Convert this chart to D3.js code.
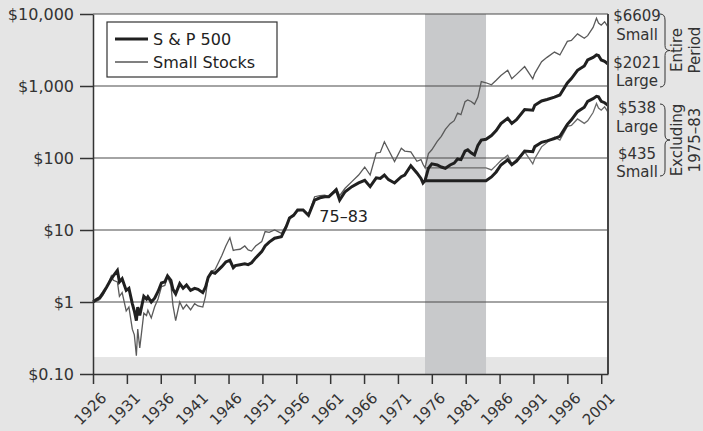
<!DOCTYPE html>
<html>
<head>
<meta charset="utf-8">
<script src="https://cdn.jsdelivr.net/npm/d3@7"></script>
<style>
  body { margin: 0; background: #e5e5e5; }
  svg { display: block; font-family: "DejaVu Sans", sans-serif; }
</style>
</head>
<body>
<div id="chart"></div>
<script>
// Growth of $1 (log scale)
var years = [1926.0, 1926.5, 1927.0, 1927.5, 1928.0, 1928.7, 1929.0, 1929.6, 1929.9, 1930.3,
  1930.9, 1931.3, 1931.8, 1932.1, 1932.4, 1932.6, 1932.9, 1933.5, 1933.9, 1934.1,
  1934.6, 1935.1, 1935.6, 1936.1, 1936.6, 1937.0, 1937.5, 1937.8, 1938.2, 1938.8,
  1939.3, 1939.8, 1940.4, 1941.0, 1941.5, 1942.2, 1942.6, 1943.0, 1943.5, 1944.0,
  1945.0, 1945.6, 1946.2, 1946.7, 1947.0, 1947.7, 1948.4, 1948.9, 1949.4, 1950.0,
  1950.9, 1951.4, 1952.0, 1952.8, 1953.8, 1954.5, 1955.0, 1955.6, 1956.2, 1957.0,
  1957.8, 1958.7, 1959.5, 1960.2, 1960.8, 1961.9, 1962.4, 1963.2, 1964.2, 1965.2,
  1966.1, 1966.9, 1967.8, 1968.4, 1969.0, 1969.6, 1970.5, 1971.5, 1972.0, 1972.9,
  1973.8, 1974.4, 1974.7, 1975.0, 1975.5, 1976.0, 1976.8, 1977.4, 1978.0, 1978.7,
  1979.3, 1979.8, 1980.3, 1980.9, 1981.3, 1981.8, 1982.3, 1982.8, 1983.3, 1984.0,
  1984.8, 1985.5, 1986.2, 1987.2, 1987.8, 1988.5, 1989.7, 1990.9, 1991.2, 1992.2,
  1993.0, 1994.1, 1994.9, 1996.0, 1996.6, 1997.5, 1998.5, 1999.0, 1999.8, 2000.3,
  2000.6, 2001.0, 2001.5, 2002.0];

var sp500 = [1.00, 1.08, 1.15, 1.35, 1.6, 2.1, 2.3, 2.75, 1.9, 2.1,
  1.45, 1.55, 0.95, 0.75, 0.55, 0.85, 0.65, 1.2, 1.1, 1.18,
  1.0, 1.13, 1.4, 1.84, 1.9, 2.3, 2.0, 1.5, 1.3, 1.8,
  1.55, 1.72, 1.45, 1.55, 1.5, 1.35, 1.6, 2.2, 2.6, 2.5,
  3.1, 3.6, 3.8, 3.0, 3.2, 3.3, 3.4, 3.3, 3.5, 4.1,
  5.0, 6.0, 6.8, 7.7, 8.1, 11, 14.7, 16, 19, 19,
  16, 26, 28, 29, 29, 36, 26, 34, 40, 45,
  49, 40, 53, 52, 58, 50, 45, 55, 58, 78,
  62, 52, 45, 48.5, 72, 83, 80, 75, 72, 80,
  85, 97, 95, 125, 130, 118, 110, 150, 177, 182,
  205, 240, 300, 355, 303, 340, 470, 460, 540, 620,
  650, 700, 750, 1100, 1270, 1650, 1900, 2300, 2500, 2700,
  2650, 2300, 2200, 2021];

var smallStocks = [1.00, 1.02, 1.08, 1.25, 1.55, 2.3, 2.0, 1.9, 1.2, 1.35,
  0.75, 0.85, 0.42, 0.35, 0.18, 0.42, 0.23, 0.7, 0.65, 0.77,
  0.6, 0.86, 1.1, 1.63, 1.7, 2.25, 1.7, 0.9, 0.55, 1.0,
  0.8, 0.92, 0.78, 0.95, 0.88, 0.85, 1.2, 2.2, 2.7, 2.8,
  4.4, 6.0, 7.8, 5.2, 5.3, 5.4, 6.0, 5.3, 5.1, 6.0,
  6.9, 9.5, 9.3, 10.0, 9.0, 11.5, 14.5, 16, 18.5, 19,
  16, 29, 30, 30.5, 29, 38, 30, 38, 47, 58,
  75, 58, 117, 120, 168, 130, 89, 137, 125, 122,
  90, 95, 82, 73, 115, 130, 170, 200, 250, 300,
  330, 420, 400, 605, 640, 610, 560, 700, 1150, 1109,
  1040, 1200, 1400, 1660, 1260, 1450, 1860, 1260, 1500, 2170,
  2500, 2960, 2700, 4170, 4300, 5300, 4600, 5000, 6500, 8700,
  7500, 7000, 7800, 6609];

// Same series with 1975-83 left out (held flat through the period)
var exclYears = [1975.0, 1984.0, 1984.8, 1985.5, 1986.2, 1987.2, 1987.8, 1988.5, 1989.7, 1990.9,
  1991.2, 1992.2, 1993.0, 1994.1, 1994.9, 1996.0, 1996.6, 1997.5, 1998.5, 1999.0,
  1999.8, 2000.3, 2000.6, 2001.0, 2001.5, 2002.0];
var sp500Excl = [48.5, 48.5, 54.6, 64.0, 80.0, 94.6, 80.7, 90.6, 125.3, 122.6,
  143.9, 165.2, 173.2, 186.6, 199.9, 293.2, 338.5, 439.7, 506.4, 613,
  666, 719.6, 706, 613, 586, 538];
var smallExcl = [73, 73, 68.4, 79.0, 92.1, 109.2, 82.9, 95.4, 122.4, 82.9,
  98.7, 142.8, 164.5, 194.8, 177.7, 274.4, 282.9, 348.7, 302.7, 329,
  427.7, 572.5, 493.5, 460.6, 513, 435];

var yTicks = [0.1, 1, 10, 100, 1000, 10000];
var yTickLabels = ["$0.10", "$1", "$10", "$100", "$1,000", "$10,000"];
var xTicks = [1926, 1931, 1936, 1941, 1946, 1951, 1956, 1961, 1966, 1971,
  1976, 1981, 1986, 1991, 1996, 2001];
var shadedPeriod = [1975, 1984];

var W = 703, H = 431;
var margin = {top: 14, right: 95, bottom: 57, left: 93},
    width = W - margin.left - margin.right,
    height = H - margin.top - margin.bottom;

var x = d3.scaleLinear().domain([1926, 2002]).range([0, width]);
var y = d3.scaleLog().domain([0.1, 10000]).range([height, 0]);

var svg = d3.select("#chart").append("svg")
    .attr("width", W).attr("height", H);

svg.append("rect").attr("width", W).attr("height", H).attr("fill", "#e5e5e5");

var g = svg.append("g")
    .attr("transform", "translate(" + margin.left + "," + margin.top + ")");

// white plotting area (the strip above the bottom axis stays grey)
g.append("rect")
    .attr("x", 0).attr("y", 0)
    .attr("width", width).attr("height", y(0.172))
    .attr("fill", "#ffffff");

// shaded 1975-83
g.append("rect")
    .attr("x", x(shadedPeriod[0])).attr("y", 0)
    .attr("width", x(shadedPeriod[1]) - x(shadedPeriod[0]))
    .attr("height", height)
    .attr("fill", "#c8c9cb");

// grid lines
g.selectAll(".grid").data(yTicks.slice(1))
  .enter().append("line")
    .attr("x1", 0).attr("x2", width)
    .attr("y1", function(d) { return y(d); })
    .attr("y2", function(d) { return y(d); })
    .attr("stroke", "#4a4a4a").attr("stroke-width", 1.2);

// series
var line = d3.line()
    .x(function(d) { return x(d[0]); })
    .y(function(d) { return y(d[1]); });

function pairs(xs, vs) { return xs.map(function(t, i) { return [t, vs[i]]; }); }

g.append("path").datum(pairs(exclYears, smallExcl))
    .attr("d", line).attr("fill", "none")
    .attr("stroke", "#6a6a6a").attr("stroke-width", 1.3);
g.append("path").datum(pairs(years, smallStocks))
    .attr("d", line).attr("fill", "none")
    .attr("stroke", "#5a5a5a").attr("stroke-width", 1.3);
g.append("path").datum(pairs(exclYears, sp500Excl))
    .attr("d", line).attr("fill", "none")
    .attr("stroke", "#202020").attr("stroke-width", 3);
g.append("path").datum(pairs(years, sp500))
    .attr("d", line).attr("fill", "none")
    .attr("stroke", "#202020").attr("stroke-width", 3);

// axes
var yAxis = g.append("g")
    .call(d3.axisLeft(y).tickValues(yTicks)
      .tickFormat(function(d, i) { return yTickLabels[i]; })
      .tickSize(13).tickSizeOuter(0).tickPadding(6));
yAxis.selectAll("text").attr("font-size", 16).attr("fill", "#333")
    .attr("font-family", "DejaVu Sans, sans-serif");

var xAxis = g.append("g")
    .attr("transform", "translate(0," + height + ")")
    .call(d3.axisBottom(x).tickValues(xTicks).tickFormat(d3.format("d"))
      .tickSize(10).tickSizeOuter(0));
xAxis.selectAll("text")
    .attr("font-size", 15).attr("fill", "#333")
    .attr("font-family", "DejaVu Sans, sans-serif")
    .style("text-anchor", "end")
    .attr("x", 0).attr("y", 0).attr("dy", 0)
    .attr("transform", "translate(14,25) rotate(-45)");

svg.selectAll(".domain, .tick line").attr("stroke", "#333").attr("stroke-width", 1.5);

// right frame
g.append("line").attr("x1", width).attr("x2", width)
    .attr("y1", 0).attr("y2", height)
    .attr("stroke", "#444").attr("stroke-width", 2);

// legend
var lg = g.append("g").attr("transform", "translate(14,8)");
lg.append("rect").attr("width", 170).attr("height", 55)
    .attr("fill", "#fff").attr("stroke", "#333").attr("stroke-width", 1.2);
lg.append("line").attr("x1", 8).attr("x2", 41).attr("y1", 17).attr("y2", 17)
    .attr("stroke", "#202020").attr("stroke-width", 3);
lg.append("line").attr("x1", 8).attr("x2", 41).attr("y1", 40).attr("y2", 40)
    .attr("stroke", "#808080").attr("stroke-width", 2);
lg.append("text").attr("x", 46).attr("y", 23).attr("font-size", 16)
    .attr("fill", "#222").text("S & P 500");
lg.append("text").attr("x", 46).attr("y", 46).attr("font-size", 16)
    .attr("fill", "#222").text("Small Stocks");

// period label
g.append("text").attr("x", x(1959.4)).attr("y", y(15.5) + 6)
    .attr("font-size", 16).attr("fill", "#222").text("75\u201383");

// right-hand annotations
var ann = svg.append("g").attr("fill", "#333").attr("font-size", 15);
var rightLabels = [["$6609", 21], ["Small", 40], ["$2021", 68], ["Large", 86],
  ["$538", 113], ["Large", 132], ["$435", 159], ["Small", 177]];
rightLabels.forEach(function(d) {
  ann.append("text").attr("x", 637).attr("y", d[1])
    .attr("text-anchor", "middle").text(d[0]);
});

function brace(x0, y0, y1) {
  var m = (y0 + y1) / 2, w = 5;
  return "M" + x0 + "," + y0 +
    " q" + w + ",0 " + w + ",6 L" + (x0 + w) + "," + (m - 5) +
    " q0,5 " + w + ",5 q-" + w + ",0 -" + w + ",5 L" + (x0 + w) + "," + (y1 - 6) +
    " q0,6 -" + w + ",6";
}
svg.append("path").attr("d", brace(660, 14, 87))
    .attr("fill", "none").attr("stroke", "#333").attr("stroke-width", 1);
svg.append("path").attr("d", brace(660, 104, 176))
    .attr("fill", "none").attr("stroke", "#333").attr("stroke-width", 1);

var sideText = [["Entire", 682, 50], ["Period", 700, 50], ["Excluding", 682, 140], ["1975\u201383", 700, 140]];
sideText.forEach(function(d) {
  svg.append("text")
    .attr("transform", "translate(" + d[1] + "," + d[2] + ") rotate(-90)")
    .attr("text-anchor", "middle").attr("font-size", 15).attr("fill", "#333")
    .text(d[0]);
});
</script>
</body>
</html>
